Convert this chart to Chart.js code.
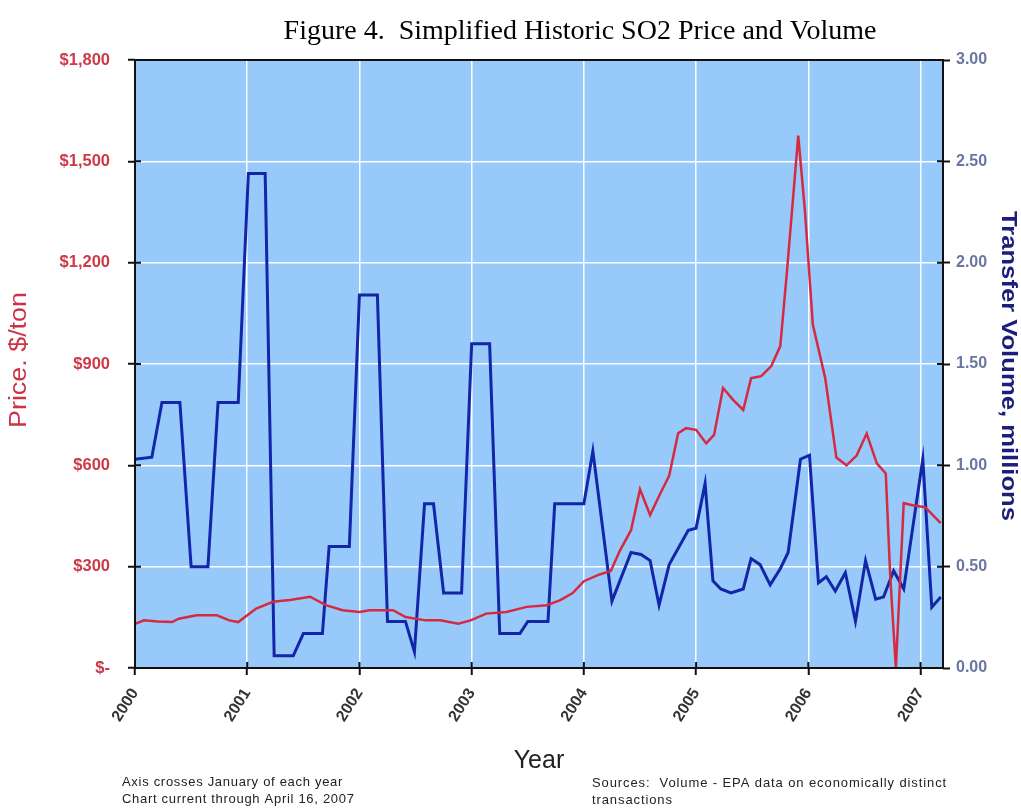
<!DOCTYPE html>
<html><head><meta charset="utf-8">
<script src="https://cdn.jsdelivr.net/npm/chart.js@4/dist/chart.umd.min.js"></script>
<style>html,body{margin:0;padding:0;background:#fff}canvas{display:block}</style>
</head><body>
<canvas id="c" width="1021" height="809"></canvas>
<script>
// ---- data (decimal years) ----
const yearTicks = [2000, 2001, 2002, 2003, 2004, 2005, 2006, 2007];
const priceTickValues = [0, 300, 600, 900, 1200, 1500, 1800];
const volumeTickValues = [0, 0.5, 1, 1.5, 2, 2.5, 3];

const priceTime = [2000.00,2000.08,2000.20,2000.33,2000.39,2000.55,2000.73,2000.84,2000.92,
  2001.08,2001.23,2001.38,2001.56,2001.70,2001.85,2002.00,2002.09,2002.30,2002.41,2002.59,
  2002.72,2002.88,2002.99,2003.13,2003.31,2003.49,2003.67,2003.79,2003.90,2004.00,2004.14,
  2004.24,2004.32,2004.42,2004.50,2004.59,2004.67,2004.76,2004.84,2004.91,2005.00,2005.09,
  2005.16,2005.24,2005.33,2005.42,2005.49,2005.58,2005.67,2005.75,2005.81,2005.91,2005.97,
  2006.04,2006.15,2006.25,2006.34,2006.43,2006.52,2006.61,2006.69,2006.73,2006.78,2006.85,
  2006.93,2007.04,2007.18];
const priceValue = [131,141,138,136,146,156,156,141,136,
  176,196,201,211,186,171,166,171,171,151,141,
  141,131,141,161,166,181,186,201,222,257,277,
  287,347,408,529,453,509,569,695,710,705,665,
  690,829,794,764,858,864,894,953,1176,1576,1352,
  1017,859,623,600,629,694,606,576,270,0,488,
  482,476,429];

const volumeTime = [2000.00,2000.15,2000.24,2000.40,2000.50,2000.65,2000.74,2000.92,2001.01,
  2001.16,2001.24,2001.41,2001.50,2001.67,2001.73,2001.91,2002.00,2002.16,2002.25,2002.41,
  2002.49,2002.58,2002.66,2002.75,2002.91,2003.00,2003.16,2003.25,2003.43,2003.50,2003.68,
  2003.74,2004.00,2004.08,2004.25,2004.42,2004.51,2004.59,2004.67,2004.76,2004.93,2005.00,
  2005.08,2005.15,2005.22,2005.31,2005.42,2005.49,2005.57,2005.66,2005.75,2005.82,2005.93,
  2006.01,2006.09,2006.16,2006.24,2006.33,2006.42,2006.51,2006.60,2006.67,2006.76,2006.85,
  2007.02,2007.10,2007.18];
const volumeValue = [1.03,1.04,1.31,1.31,0.50,0.50,1.31,1.31,2.44,
  2.44,0.06,0.06,0.17,0.17,0.60,0.60,1.84,1.84,0.23,0.23,
  0.08,0.81,0.81,0.37,0.37,1.60,1.60,0.17,0.17,0.23,0.23,
  0.81,0.81,1.07,0.33,0.57,0.56,0.53,0.31,0.51,0.68,0.69,
  0.91,0.43,0.39,0.37,0.39,0.54,0.51,0.41,0.49,0.57,1.03,
  1.05,0.42,0.45,0.38,0.47,0.23,0.53,0.34,0.35,0.48,0.39,
  1.03,0.30,0.35];

const chartTitle = 'Figure 4.  Simplified Historic SO2 Price and Volume';
const leftTitle = 'Price. $/ton';
const rightTitle = 'Transfer Volume, millions';
const xTitle = 'Year';
const noteLeft = ['Axis crosses January of each year', 'Chart current through April 16, 2007'];
const noteRight = ['Sources:  Volume - EPA data on economically distinct', 'transactions'];

const priceData = priceTime.map((t, i) => ({x: t, y: priceValue[i]}));
const volumeData = volumeTime.map((t, i) => ({x: t, y: volumeValue[i]}));

const SANS = '"Liberation Sans", Arial, sans-serif';

function stretchedText(ctx, text, x, y, rot, font, color, length) {
  ctx.save();
  ctx.translate(x, y);
  ctx.rotate(rot);
  ctx.font = font;
  ctx.fillStyle = color;
  ctx.textAlign = 'center';
  ctx.textBaseline = 'middle';
  const w = ctx.measureText(text).width;
  ctx.scale(length / w, 1);
  ctx.fillText(text, 0, 0);
  ctx.restore();
}

const decor = {
  id: 'decor',
  beforeDraw(chart) {
    const {ctx, chartArea: a} = chart;
    ctx.save();
    ctx.fillStyle = '#97c9fb';
    ctx.fillRect(a.left, a.top, a.right - a.left, a.bottom - a.top);
    ctx.restore();
  },
  afterDraw(chart) {
    const {ctx, chartArea: a, scales} = chart;
    ctx.save();
    ctx.strokeStyle = '#111';
    ctx.lineWidth = 2;
    ctx.strokeRect(a.left, a.top, a.right - a.left, a.bottom - a.top);
    // inner halves of tick marks (ticks cross the axes)
    ctx.beginPath();
    scales.y.ticks.forEach(t => { const p = scales.y.getPixelForValue(t.value); ctx.moveTo(a.left, p); ctx.lineTo(a.left + 6, p); });
    scales.y2.ticks.forEach(t => { const p = scales.y2.getPixelForValue(t.value); ctx.moveTo(a.right, p); ctx.lineTo(a.right - 6, p); });
    scales.x.ticks.forEach(t => { const p = scales.x.getPixelForValue(t.value); ctx.moveTo(p, a.bottom); ctx.lineTo(p, a.bottom - 6); });
    ctx.stroke();
    // title
    ctx.fillStyle = '#000';
    ctx.font = '28px "Liberation Serif", "Times New Roman", serif';
    ctx.textAlign = 'center';
    ctx.textBaseline = 'alphabetic';
    ctx.fillText(chartTitle, 580, 39);
    // axis titles
    stretchedText(ctx, leftTitle, 20, 360, -Math.PI / 2, '23px ' + SANS, '#cc3344', 136);
    stretchedText(ctx, rightTitle, 1008, 366, Math.PI / 2, 'bold 22px ' + SANS, '#1c1f7a', 310);
    // x title
    ctx.fillStyle = '#222';
    ctx.font = '25px ' + SANS;
    ctx.textAlign = 'center';
    ctx.textBaseline = 'alphabetic';
    ctx.fillText(xTitle, 539, 768);
    // notes
    ctx.textAlign = 'left';
    ctx.font = '13px ' + SANS;
    ctx.fillStyle = '#222';
    ctx.letterSpacing = '0.7px';
    ctx.fillText(noteLeft[0], 122, 786);
    ctx.fillText(noteLeft[1], 122, 803);
    ctx.letterSpacing = '0.9px';
    ctx.fillText(noteRight[0], 592, 787);
    ctx.fillText(noteRight[1], 592, 804);
    ctx.restore();
  }
};

new Chart(document.getElementById('c'), {
  type: 'line',
  data: {
    datasets: [
      {label: 'Price', data: priceData, yAxisID: 'y', borderColor: '#d62a40', borderWidth: 2.5,
       pointRadius: 0, tension: 0, order: 0},
      {label: 'Volume', data: volumeData, yAxisID: 'y2', borderColor: '#1426a8', borderWidth: 3,
       pointRadius: 0, tension: 0, order: 1}
    ]
  },
  plugins: [decor],
  options: {
    responsive: false,
    animation: false,
    layout: {padding: {top: 60, left: 0, right: 0, bottom: 0}},
    plugins: {legend: {display: false}, title: {display: false}, tooltip: {enabled: false}},
    scales: {
      x: {
        type: 'linear', min: 2000, max: 2007.2,
        afterFit(s) { s.height = 141; },
        afterBuildTicks(s) { s.ticks = yearTicks.map(v => ({value: v})); },
        ticks: {
          stepSize: 1, autoSkip: false, minRotation: 58, maxRotation: 58, padding: 10,
          color: '#333', font: {family: SANS, size: 16, weight: 'bold'},
          callback: v => String(v)
        },
        grid: {color: '#ffffff', lineWidth: 1.5, tickColor: '#111', tickLength: 7, tickWidth: 2},
        border: {display: false}
      },
      y: {
        position: 'left', min: 0, max: 1800,
        afterFit(s) { s.width = 135; },
        afterBuildTicks(s) { s.ticks = priceTickValues.map(v => ({value: v})); },
        ticks: {
          padding: 18, color: '#cc3a4a',
          font: {family: SANS, size: 16.5, weight: 'bold'},
          callback: v => v === 0 ? '$-' : '$' + v.toLocaleString('en-US')
        },
        grid: {color: '#ffffff', lineWidth: 1.5, tickColor: '#111', tickLength: 7, tickWidth: 2},
        border: {display: false}
      },
      y2: {
        position: 'right', min: 0, max: 3,
        afterFit(s) { s.width = 78; },
        afterBuildTicks(s) { s.ticks = volumeTickValues.map(v => ({value: v})); },
        ticks: {
          padding: 6, color: '#6a76a0',
          font: {family: SANS, size: 16, weight: 'bold'},
          callback: v => Number(v).toFixed(2)
        },
        grid: {drawOnChartArea: false, tickColor: '#111', tickLength: 7, tickWidth: 2},
        border: {display: false}
      }
    }
  }
});
</script>
</body></html>
